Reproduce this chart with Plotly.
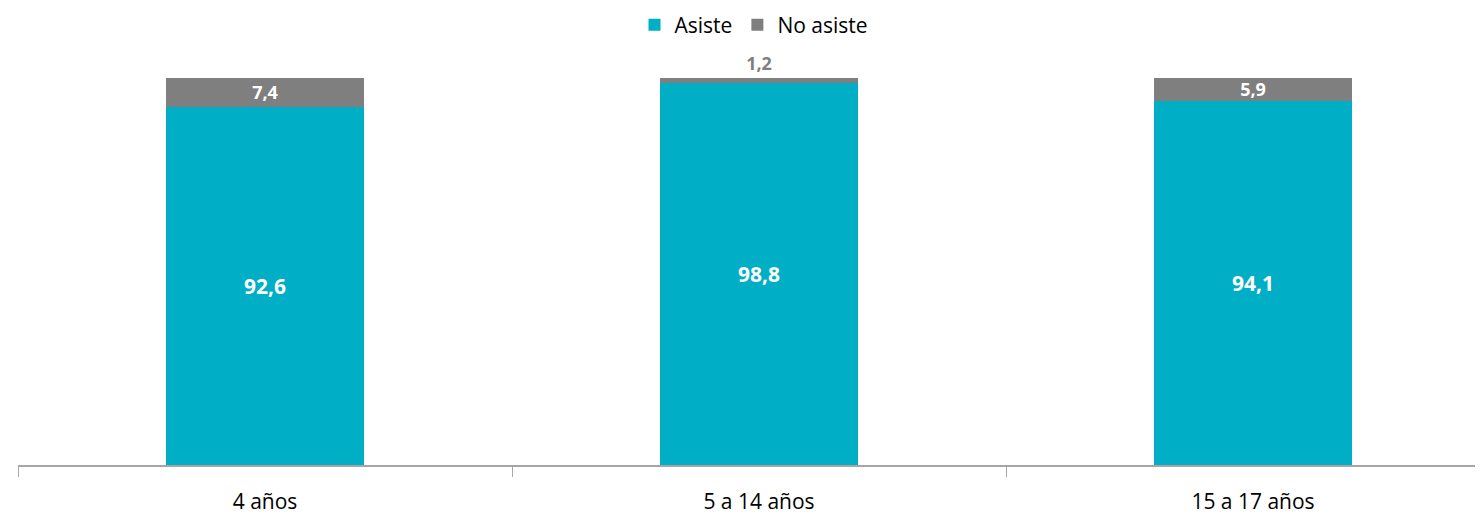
import plotly.graph_objects as go

categories = ["4 años", "5 a 14 años", "15 a 17 años"]
asiste = [92.6, 98.8, 94.1]
no_asiste = [7.4, 1.2, 5.9]

def fmt(v):
    return f"{v:.1f}".replace(".", ",")

FONT = "Open Sans"
TEAL = "#00AEC5"
GREY = "#7F7F7F"

fig = go.Figure()
fig.add_bar(
    x=categories, y=asiste, name="Asiste", marker_color=TEAL, marker_line_width=0,
    text=[fmt(v) for v in asiste], textposition="inside", insidetextanchor="middle",
    textfont=dict(color="white", size=21, family=FONT, weight="bold"),
    width=0.4, constraintext="none",
)
no_pos = ["inside" if v >= 3 else "outside" for v in no_asiste]
fig.add_bar(
    x=categories, y=no_asiste, name="No asiste", marker_color=GREY, marker_line_width=0,
    text=[fmt(v) for v in no_asiste], textposition=no_pos, insidetextanchor="middle",
    insidetextfont=dict(color="white", size=18, family=FONT, weight="bold"),
    outsidetextfont=dict(color=GREY, size=18, family=FONT, weight="bold"),
    width=0.4, cliponaxis=False, constraintext="none",
)

W, H = 1475, 507  # page body margin of 8px puts the figure at (8, 8)
plot_w = W - 10
cat_px = 494
fig.update_layout(
    barmode="stack",
    width=W, height=H,
    margin=dict(l=10, r=0, t=70, b=47),
    plot_bgcolor="white", paper_bgcolor="white",
    font=dict(family=FONT, size=20, color="#000000"),
    legend=dict(
        orientation="h", xref="container", yref="container",
        x=(754 - 8) / W, xanchor="center", y=1 - 17 / H, yanchor="middle",
        font=dict(size=21, family=FONT), itemwidth=30, traceorder="normal",
    ),
    xaxis=dict(
        range=[-0.5, -0.5 + plot_w / cat_px],
        tickson="boundaries", ticks="outside", ticklen=10, tickcolor="#A6A6A6",
        showline=True, linecolor="#A6A6A6", linewidth=2,
        tickfont=dict(size=21, family=FONT, color="#000000"),
        ticklabelstandoff=17,
        showgrid=False, fixedrange=True,
    ),
    yaxis=dict(range=[0, 100], visible=False, showgrid=False, fixedrange=True),
    showlegend=True,
)

fig.write_html("out.html")
